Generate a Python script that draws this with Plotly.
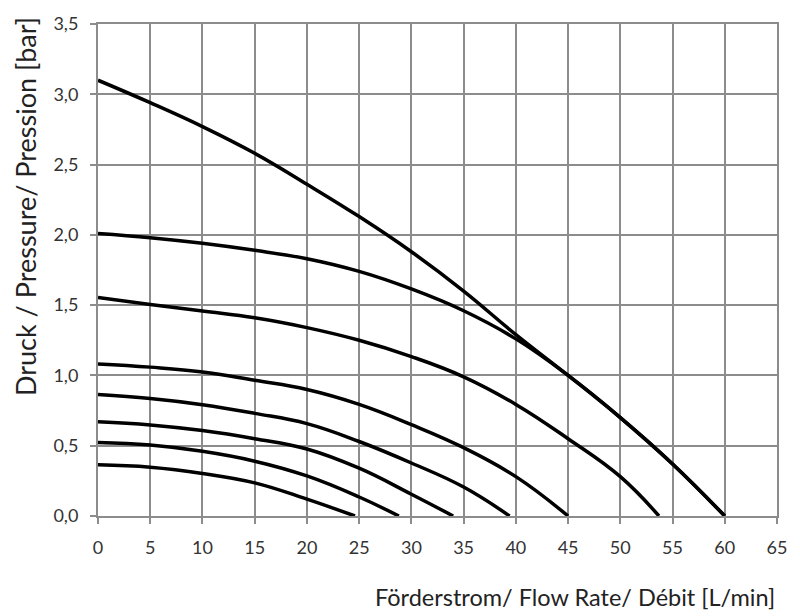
import plotly.graph_objects as go

# Pumpenkennlinien - flow rate (L/min) vs pressure (bar)
flow_a = [0, 5, 10, 15, 20, 25, 30, 35, 40, 45, 50, 55, 60]
pres_a = [3.10, 2.94, 2.77, 2.58, 2.36, 2.13, 1.88, 1.60, 1.29, 1.00, 0.70, 0.37, 0.0]

flow_b = [0, 5, 10, 15, 20, 25, 30, 35, 40, 45, 50, 55, 60]
pres_b = [2.01, 1.98, 1.94, 1.89, 1.83, 1.74, 1.615, 1.46, 1.26, 1.00, 0.70, 0.37, 0.0]

flow_c = [0, 5, 10, 15, 20, 25, 30, 35, 40, 45, 50, 53.7]
pres_c = [1.555, 1.505, 1.458, 1.41, 1.34, 1.25, 1.134, 0.99, 0.794, 0.55, 0.28, 0.0]

flow_d = [0, 5, 10, 15, 20, 25, 30, 35, 40, 45]
pres_d = [1.082, 1.059, 1.025, 0.965, 0.90, 0.794, 0.65, 0.486, 0.28, 0.0]

flow_e = [0, 5, 10, 15, 20, 25, 30, 35, 39.4]
pres_e = [0.864, 0.836, 0.792, 0.73, 0.657, 0.53, 0.377, 0.206, 0.0]

flow_f = [0, 5, 10, 15, 20, 25, 30, 34]
pres_f = [0.671, 0.648, 0.608, 0.55, 0.477, 0.34, 0.155, 0.0]

flow_g = [0, 5, 10, 15, 20, 25, 28.8]
pres_g = [0.523, 0.505, 0.46, 0.39, 0.285, 0.135, 0.0]

flow_h = [0, 5, 10, 15, 20, 24.6]
pres_h = [0.364, 0.347, 0.303, 0.236, 0.12, 0.0]

curves = [(flow_a, pres_a), (flow_b, pres_b), (flow_c, pres_c), (flow_d, pres_d),
          (flow_e, pres_e), (flow_f, pres_f), (flow_g, pres_g), (flow_h, pres_h)]

x_title = "Förderstrom/ Flow Rate/ Débit [L/min]"
y_title = "Druck / Pressure/ Pression [bar]"

fig = go.Figure()
for fx, py in curves:
    fig.add_trace(go.Scatter(x=fx, y=py, mode='lines',
                             line=dict(color='black', width=3.5, shape='spline', smoothing=1.2),
                             showlegend=False, hoverinfo='skip'))

grid = '#8c8c8c'
tickfont = dict(size=18, family='Lato, sans-serif', color='#333333')
fig.update_layout(
    width=800, height=616,
    margin=dict(l=98, r=23, t=19, b=100),
    paper_bgcolor='white', plot_bgcolor='white',
    separators=', ',
    font=dict(family='Lato, DejaVu Sans, sans-serif', color='#333333'),
    xaxis=dict(range=[0, 65], dtick=5, tick0=0, showgrid=True, gridcolor=grid, gridwidth=2,
               zeroline=False, showline=True, linecolor=grid, linewidth=2, mirror=True,
               ticks='outside', ticklen=6, tickcolor=grid, tickwidth=2, tickfont=tickfont,
               ticklabelstandoff=8),
    yaxis=dict(range=[0, 3.5], dtick=0.5, tick0=0, tickformat='.1f', showgrid=True,
               gridcolor=grid, gridwidth=2, zeroline=False, showline=True, linecolor=grid,
               linewidth=2, mirror=True, ticks='outside', ticklen=6, tickcolor=grid, tickwidth=2,
               tickfont=tickfont, ticklabelstandoff=8),
)

fig.add_annotation(text=x_title, xref='paper', yref='paper', x=1.0, y=-0.165,
                   xanchor='right', yanchor='middle', showarrow=False,
                   font=dict(size=23.5, family='Lato, sans-serif', color='#222222'))
fig.add_annotation(text=y_title, xref='paper', yref='paper', x=-0.1075, y=0.628,
                   xanchor='center', yanchor='middle', textangle=-90, showarrow=False,
                   font=dict(size=27, family='Lato, sans-serif', color='#222222'))

fig.write_html("out.html", config=dict(displayModeBar=False),
               post_script="document.body.style.margin='0';document.body.style.overflow='hidden';")
